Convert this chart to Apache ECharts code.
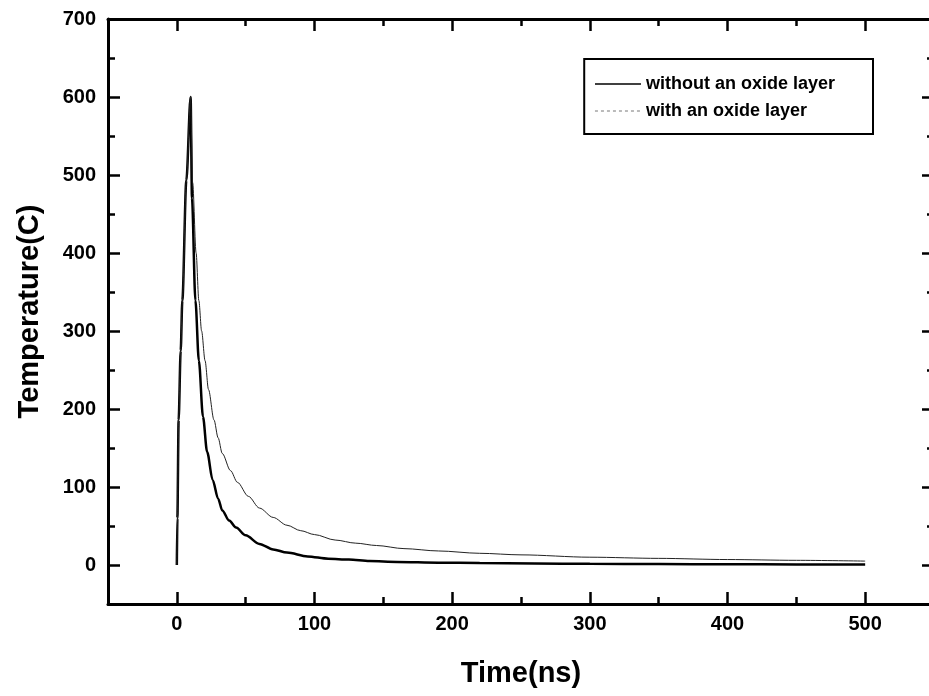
<!DOCTYPE html>
<html><head><meta charset="utf-8">
<script src="https://cdn.jsdelivr.net/npm/echarts@6/dist/echarts.min.js"></script>
<style>html,body{margin:0;padding:0;background:#fff}#c{width:929px;height:696px}</style>
</head><body><div id="c"></div>
<script>
// ---- data ----
const timeNoOxide = [0,0.4,1.3,2.8,4,6.9,10,11,13.5,16,19,22,26,30,33,38,43,50,60,70,80,95,110,125,140,160,190,220,260,300,350,400,450,500];
const tempNoOxide = [0,60,186,275,339,493,600,470,339,262,190,145,109,85,70,57,48,38,27,20,16,11,8,7,5,4,3,2.5,2,1.5,1.2,1,0.8,0.5];
const timeOxide = [0,0.4,1.3,2.8,4,6.9,10,11.5,14,16,18,20.5,23,27,30,33,39,44,52,60,70,80,90,100,115,130,145,165,190,220,250,300,350,400,450,500];
const tempOxide = [0,60,186,275,339,493,600,490,400,339,300,262,225,186,163,143,121,106,88,73,61,51,44,39,32,28,25,21,18,15,13,10,8.5,7,6,5];
const seriesNames = ['without an oxide layer', 'with an oxide layer'];
const xAxisName = 'Time(ns)';
const yAxisName = 'Temperature(C)';
const xRange = [-50, 550];
const yRange = [-50, 700];
const tickStep = 100;

const pair = (xs, ys) => xs.map((x, i) => [x, ys[i]]);
const FONT = '"Liberation Sans", Arial, sans-serif';
const axisLine = {show: true, onZero: false, lineStyle: {color: '#000', width: 3}};
const axisTick = {show: true, inside: true, length: 12, lineStyle: {color: '#000', width: 2.5}};
const minorTick = {show: true, splitNumber: 2, length: 7, lineStyle: {color: '#000', width: 2.5}};
const labelStyle = {fontFamily: FONT, fontWeight: 'bold', fontSize: 20, color: '#000'};

const chart = echarts.init(document.getElementById('c'), null, {renderer: 'canvas'});
chart.setOption({
  animation: false,
  backgroundColor: '#fff',
  grid: {left: 108, width: 826, top: 19, height: 585, containLabel: false, outerBoundsMode: 'none'},
  legend: {
    orient: 'vertical', right: 56, top: 59,
    itemWidth: 46, itemHeight: 14, itemGap: 9,
    padding: [16, 38, 14, 10],
    borderColor: '#000', borderWidth: 2,
    itemStyle: {opacity: 0},
    textStyle: {fontFamily: FONT, fontWeight: 'bold', fontSize: 18, color: '#000'},
    data: [
      {name: seriesNames[0], lineStyle: {color: '#000', width: 1.5}},
      {name: seriesNames[1], lineStyle: {type: [3, 3], color: '#777', width: 1}}
    ]
  },
  xAxis: [
    {type: 'value', position: 'bottom', min: xRange[0], max: xRange[1], minInterval: tickStep, maxInterval: tickStep,
     name: xAxisName, nameLocation: 'middle', nameGap: 55,
     nameTextStyle: {fontFamily: FONT, fontWeight: 'bold', fontSize: 29, color: '#000'},
     axisLine, axisTick, minorTick, splitLine: {show: false},
     axisLabel: Object.assign({margin: 10, showMinLabel: false, showMaxLabel: false}, labelStyle)},
    {type: 'value', position: 'top', min: xRange[0], max: xRange[1], minInterval: tickStep, maxInterval: tickStep,
     axisLine, axisTick, minorTick, splitLine: {show: false}, axisLabel: {show: false}}
  ],
  yAxis: [
    {type: 'value', position: 'left', min: yRange[0], max: yRange[1], minInterval: tickStep, maxInterval: tickStep,
     name: yAxisName, nameLocation: 'middle', nameGap: 64,
     nameTextStyle: {fontFamily: FONT, fontWeight: 'bold', fontSize: 29, color: '#000'},
     axisLine, axisTick, minorTick, splitLine: {show: false},
     axisLabel: Object.assign({margin: 12, showMinLabel: false}, labelStyle)},
    {type: 'value', position: 'right', min: yRange[0], max: yRange[1], minInterval: tickStep, maxInterval: tickStep,
     axisLine, axisTick, minorTick, splitLine: {show: false}, axisLabel: {show: false}}
  ],
  series: [
    {name: seriesNames[0], type: 'line', data: pair(timeNoOxide, tempNoOxide), symbol: 'none',
     smooth: 0.3, smoothMonotone: 'x', lineStyle: {color: '#000', width: 2.5}, itemStyle: {color: '#000'}},
    {name: seriesNames[1], type: 'line', data: pair(timeOxide, tempOxide), symbol: 'none',
     smooth: 0.3, smoothMonotone: 'x', lineStyle: {color: '#222', width: 1}, itemStyle: {color: '#444'}}
  ]
});
</script>
</body></html>
